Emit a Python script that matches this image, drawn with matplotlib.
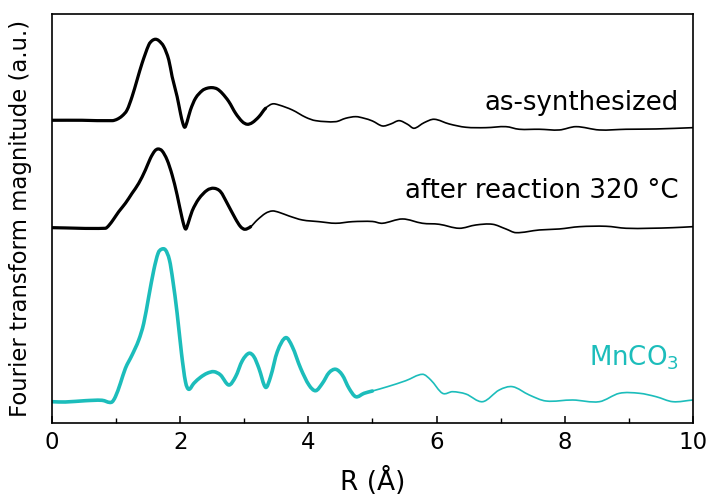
import numpy as np
import matplotlib
matplotlib.use("Agg")
import matplotlib.pyplot as plt
from matplotlib.path import Path
from matplotlib.patches import PathPatch
from matplotlib.ticker import MultipleLocator

# Fourier-transformed EXAFS magnitudes (a.u.) versus radial distance R (Å)
r_as = [0.0, 0.47, 0.94, 1.016, 1.094, 1.172, 1.25, 1.328, 1.406, 1.51, 1.5625, 1.615,
        1.667, 1.745, 1.823, 1.875, 1.953, 2.005, 2.042, 2.073, 2.109, 2.161, 2.24,
        2.344, 2.42, 2.5, 2.578, 2.656, 2.76, 2.865, 2.97, 3.047, 3.125, 3.23, 3.333,
        3.4375, 3.54, 3.75, 3.958, 4.115, 4.427, 4.583, 4.74, 4.87, 5.0, 5.156, 5.286,
        5.417, 5.547, 5.651, 5.807, 5.964, 6.198, 6.458, 6.771, 7.083, 7.29, 7.604,
        7.917, 8.177, 8.54, 8.958, 9.427, 10.0]
ft_as = [0.127, 0.127, 0.123, 0.137, 0.17, 0.23, 0.363, 0.53, 0.697, 0.88, 0.923, 0.937,
         0.923, 0.863, 0.73, 0.563, 0.363, 0.197, 0.097, 0.057, 0.113, 0.23, 0.347,
         0.423, 0.447, 0.453, 0.44, 0.397, 0.313, 0.197, 0.113, 0.087, 0.103, 0.163,
         0.247, 0.29, 0.28, 0.23, 0.157, 0.123, 0.113, 0.147, 0.163, 0.147, 0.12, 0.07,
         0.09, 0.123, 0.087, 0.047, 0.103, 0.137, 0.09, 0.057, 0.053, 0.063, 0.037,
         0.037, 0.03, 0.063, 0.03, 0.037, 0.04, 0.053]

r_after = [0.0, 0.833, 0.885, 0.964, 1.042, 1.146, 1.25, 1.354, 1.458, 1.536, 1.604,
           1.656, 1.719, 1.797, 1.875, 1.953, 2.031, 2.083, 2.125, 2.1875, 2.29, 2.42,
           2.526, 2.63, 2.734, 2.865, 2.943, 3.01, 3.1, 3.203, 3.333, 3.4375, 3.54,
           3.698, 3.906, 4.167, 4.427, 4.6875, 5.0, 5.156, 5.469, 5.78, 6.04, 6.354,
           6.615, 6.875, 7.083, 7.24, 7.604, 7.917, 8.23, 8.646, 8.958, 9.323, 9.6875,
           10.0]
ft_after = [0.053, 0.047, 0.073, 0.14, 0.213, 0.297, 0.397, 0.497, 0.63, 0.747, 0.82,
            0.84, 0.82, 0.73, 0.58, 0.38, 0.147, 0.04, 0.097, 0.22, 0.34, 0.427, 0.447,
            0.413, 0.297, 0.14, 0.063, 0.037, 0.063, 0.13, 0.197, 0.22, 0.207, 0.17,
            0.13, 0.113, 0.097, 0.113, 0.115, 0.097, 0.14, 0.097, 0.087, 0.047, 0.08,
            0.087, 0.04, 0.003, 0.03, 0.04, 0.063, 0.067, 0.047, 0.047, 0.053, 0.063]

r_mnco3 = [0.0, 0.208, 0.521, 0.781, 0.927, 0.99, 1.068, 1.146, 1.25, 1.354, 1.432,
           1.51, 1.589, 1.656, 1.708, 1.771, 1.833, 1.885, 1.953, 2.021, 2.083, 2.135,
           2.214, 2.318, 2.42, 2.526, 2.63, 2.76, 2.865, 2.97, 3.073, 3.151, 3.229,
           3.333, 3.411, 3.516, 3.646, 3.75, 3.88, 4.01, 4.115, 4.22, 4.323, 4.427,
           4.53, 4.635, 4.74, 4.87, 5.0, 5.234, 5.521, 5.781, 5.911, 6.094, 6.25,
           6.458, 6.719, 6.979, 7.1875, 7.448, 7.708, 8.125, 8.54, 8.854, 9.167,
           9.427, 9.6875, 10.0]
ft_mnco3 = [0.013, 0.01, 0.023, 0.027, 0.007, 0.063, 0.197, 0.347, 0.48, 0.63, 0.797,
            1.063, 1.33, 1.497, 1.537, 1.53, 1.43, 1.23, 0.897, 0.497, 0.213, 0.137,
            0.197, 0.257, 0.297, 0.313, 0.28, 0.18, 0.263, 0.423, 0.497, 0.463, 0.347,
            0.157, 0.263, 0.513, 0.653, 0.563, 0.347, 0.18, 0.123, 0.197, 0.303, 0.337,
            0.28, 0.147, 0.063, 0.097, 0.12, 0.163, 0.223, 0.287, 0.23, 0.097, 0.113,
            0.09, 0.013, 0.13, 0.163, 0.08, 0.02, 0.03, 0.013, 0.097, 0.097, 0.063,
            0.013, 0.03]

labels = ["as-synthesized", "after reaction 320 °C", "MnCO$_3$"]
offsets = [2.90, 1.90, 0.20]
label_y = [3.13, 2.25, 0.57]
colors = ["black", "black", "#1cbdbb"]
thick_until = [3.3, 3.1, 5.0]
thick_lw = [2.3, 2.3, 2.6]
thin_lw = 1.2

plt.rcParams["font.family"] = ["DejaVu Sans"]


def smooth_path(x, y, i0, i1):
    """Cubic Hermite (Bezier) path through points i0..i1, slopes from neighbours."""
    n = len(x)
    slope = np.empty(n)
    slope[0] = (y[1] - y[0]) / (x[1] - x[0])
    slope[-1] = (y[-1] - y[-2]) / (x[-1] - x[-2])
    slope[1:-1] = (y[2:] - y[:-2]) / (x[2:] - x[:-2])
    verts = [(x[i0], y[i0])]
    codes = [Path.MOVETO]
    for i in range(i0, i1):
        h = x[i + 1] - x[i]
        verts += [(x[i] + h / 3, y[i] + slope[i] * h / 3),
                  (x[i + 1] - h / 3, y[i + 1] - slope[i + 1] * h / 3),
                  (x[i + 1], y[i + 1])]
        codes += [Path.CURVE4] * 3
    return Path(verts, codes)


fig = plt.figure(figsize=(7.07, 4.98), dpi=100)
ax = fig.add_axes([0.0735, 0.1506, 0.9065, 0.8214])

series = [(r_as, ft_as), (r_after, ft_after), (r_mnco3, ft_mnco3)]
for (r, ft), off, col, cut, lw, lab, ly in zip(series, offsets, colors, thick_until,
                                              thick_lw, labels, label_y):
    r = np.asarray(r, float)
    y = np.asarray(ft, float) + off
    n_cut = int(np.searchsorted(r, cut))
    for i0, i1, w in [(0, len(r) - 1, thin_lw), (0, n_cut, lw)]:
        ax.add_patch(PathPatch(smooth_path(r, y, i0, i1), fill=False, edgecolor=col,
                               lw=w, joinstyle="round", capstyle="round"))
    ax.text(9.78, ly, lab, color=col, fontsize=18.7, ha="right", va="baseline")

ax.set_xlim(0, 10)
ax.set_ylim(0, 4.09)
ax.xaxis.set_major_locator(MultipleLocator(2))
ax.xaxis.set_minor_locator(MultipleLocator(1))
ax.set_yticks([])
ax.tick_params(axis="x", which="major", direction="in", length=5, width=1.1,
               labelsize=16.5, pad=6)
ax.tick_params(axis="x", which="minor", direction="in", length=3.5, width=1.0)
for s in ax.spines.values():
    s.set_linewidth(1.2)

ax.set_xlabel("R (Å)", fontsize=19, labelpad=9)
ax.set_ylabel("Fourier transform magnitude (a.u.)", fontsize=16.4)
ax.yaxis.set_label_coords(-0.031, 0.5)

fig.savefig("out.png", dpi=100)
